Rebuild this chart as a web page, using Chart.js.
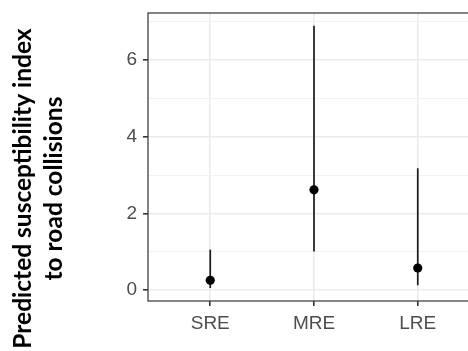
<!DOCTYPE html>
<html><head><meta charset="utf-8">
<script src="https://cdn.jsdelivr.net/npm/chart.js@4.4.0/dist/chart.umd.min.js"></script>
<style>
html,body{margin:0;padding:0;overflow:hidden;background:#fff;width:468px;height:351px}
#wrap{position:absolute;left:0;top:0;width:490px;height:364px}
</style>
</head><body><div id="wrap"><canvas id="c" width="490" height="364"></canvas></div>
<script>
const categories = ['SRE', 'MRE', 'LRE'];
const estimates = [0.26, 2.62, 0.58];
const lowerBounds = [0.06, 1.01, 0.13];
const upperBounds = [1.06, 6.90, 3.18];
const yTicks = [0, 2, 4, 6];
const yMinorTicks = [1, 3, 5, 7];
const yTitle = ['Predicted susceptibility index', 'to road collisions'];

Chart.defaults.font.family = "'Liberation Sans', Arial, sans-serif";

const errorBarSets = categories.map((c, i) => ({
  type: 'line',
  label: c,
  data: [{x: i, y: lowerBounds[i]}, {x: i, y: upperBounds[i]}],
  borderColor: '#1a1a1a',
  borderWidth: 1.7,
  pointRadius: 0,
  order: 1
}));

const pointSet = {
  type: 'scatter',
  label: 'estimate',
  data: estimates.map((y, i) => ({x: i, y})),
  backgroundColor: '#000',
  borderWidth: 0,
  pointRadius: 4.6,
  order: 0
};

const boxPlugin = {
  id: 'panelBox',
  beforeDatasetsDraw(chart) {
    const {ctx, chartArea: a} = chart;
    ctx.save();
    ctx.strokeStyle = '#333';
    ctx.lineWidth = 1.2;
    ctx.strokeRect(a.left, a.top, a.right - a.left, a.bottom - a.top);
    ctx.restore();
  }
};

const isMajorY = v => yTicks.includes(v);

new Chart(document.getElementById('c'), {
  type: 'scatter',
  data: {datasets: [pointSet, ...errorBarSets]},
  options: {
    responsive: false,
    animation: false,
    layout: {padding: {top: 13, right: 10, left: 0, bottom: 0}},
    plugins: {
      legend: {display: false},
      tooltip: {enabled: false},
      title: {
        display: true,
        position: 'left',
        text: yTitle,
        color: '#000',
        font: {family: 'Lato', weight: 'bold', size: 24.5, lineHeight: 31 / 24.5},
        padding: {top: 8, bottom: 0}
      }
    },
    scales: {
      x: {
        type: 'linear',
        min: -0.6,
        max: 2.6,
        afterBuildTicks: s => { s.ticks = categories.map((c, i) => ({value: i})); },
        afterFit: s => { s.height = 63; s.paddingLeft = 0; s.paddingRight = 0; },
        ticks: {
          autoSkip: false,
          maxRotation: 0,
          color: '#4D4D4D',
          font: {size: 19},
          padding: 6,
          callback: v => categories[v]
        },
        grid: {
          color: '#EBEBEB',
          lineWidth: 1.6,
          tickColor: '#333',
          tickLength: 5
        },
        border: {display: false}
      },
      y: {
        type: 'linear',
        min: -0.28,
        max: 7.23,
        afterBuildTicks: s => { s.ticks = [...yTicks, ...yMinorTicks].sort((a, b) => a - b).map(v => ({value: v})); },
        afterFit: s => { s.width = 78; s.paddingTop = 0; s.paddingBottom = 0; },
        ticks: {
          color: '#4D4D4D',
          font: {size: 19},
          padding: 6,
          callback: v => isMajorY(v) ? String(v) : ''
        },
        grid: {
          color: c => (c.tick && isMajorY(c.tick.value)) ? '#EBEBEB' : '#F2F2F2',
          lineWidth: c => (c.tick && isMajorY(c.tick.value)) ? 1.6 : 1,
          tickColor: c => (c.tick && isMajorY(c.tick.value)) ? '#333' : 'rgba(0,0,0,0)',
          tickLength: 5
        },
        border: {display: false}
      }
    }
  },
  plugins: [boxPlugin]
});
</script>
</body></html>
